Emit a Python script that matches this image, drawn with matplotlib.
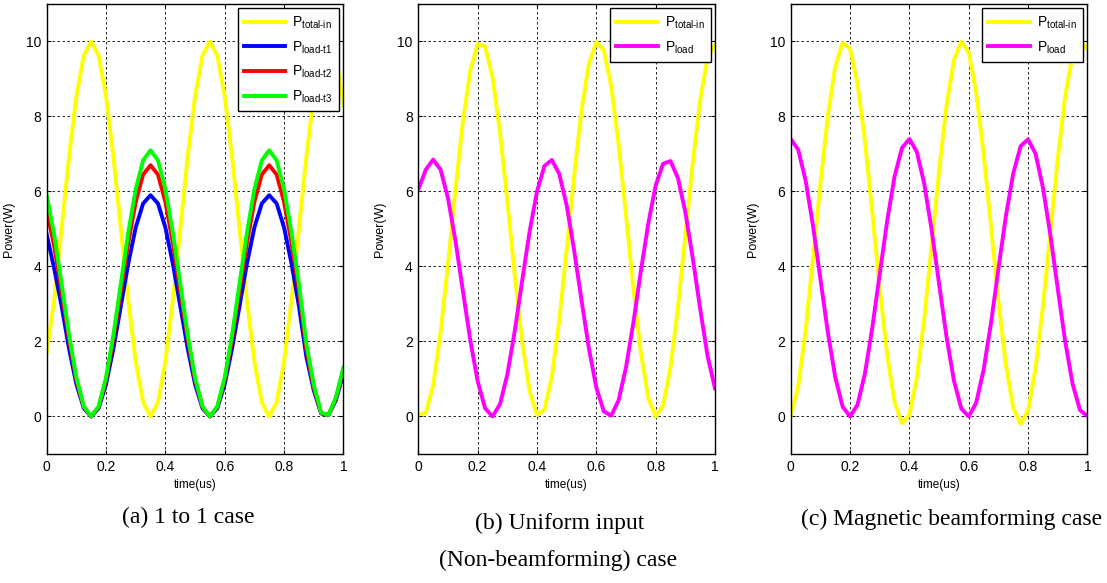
import matplotlib
matplotlib.use('Agg')
import matplotlib.pyplot as plt

plt.rcParams['font.family'] = ['Liberation Sans', 'DejaVu Sans']
plt.rcParams['mathtext.fontset'] = 'custom'
plt.rcParams['mathtext.rm'] = 'Liberation Sans'
plt.rcParams['mathtext.it'] = 'Liberation Sans'

# time axis (us), sampled every 0.025
t = [i * 0.025 for i in range(41)]

# (a) 1 to 1 case
a_total = [1.7, 3.09, 5.0, 6.91, 8.54, 9.62, 10.0, 9.62, 8.54, 6.91, 5.0, 3.09, 1.46, 0.38,
           0.0, 0.38, 1.46, 3.09, 5.0, 6.91, 8.54, 9.62, 10.0, 9.62, 8.54, 6.91, 5.0, 3.09,
           1.46, 0.38, 0.0, 0.38, 1.46, 3.09, 5.0, 6.91, 8.54, 9.62, 10.0, 9.62, 8.3]
a_load1 = [4.85, 3.95, 2.95, 1.82, 0.86, 0.22, 0.0, 0.22, 0.86, 1.82, 2.95, 4.08, 5.04, 5.68,
           5.9, 5.68, 5.04, 4.08, 2.95, 1.82, 0.86, 0.22, 0.0, 0.22, 0.86, 1.82, 2.95, 4.08,
           5.04, 5.68, 5.9, 5.68, 5.04, 4.08, 2.95, 1.6, 0.7, 0.08, 0.04, 0.44, 1.15]
a_load2 = [5.5, 4.55, 3.35, 2.07, 0.98, 0.25, 0.0, 0.25, 0.98, 2.07, 3.35, 4.63, 5.72, 6.45,
           6.7, 6.45, 5.72, 4.63, 3.35, 2.07, 0.98, 0.25, 0.0, 0.25, 0.98, 2.07, 3.35, 4.63,
           5.72, 6.45, 6.7, 6.45, 5.72, 4.63, 3.35, 1.8, 0.78, 0.09, 0.04, 0.49, 1.25]
a_load3 = [5.9, 4.85, 3.55, 2.19, 1.04, 0.27, 0.0, 0.27, 1.04, 2.19, 3.55, 4.91, 6.06, 6.83,
           7.1, 6.83, 6.06, 4.91, 3.55, 2.19, 1.04, 0.27, 0.0, 0.27, 1.04, 2.19, 3.55, 4.91,
           6.06, 6.83, 7.1, 6.83, 6.06, 4.91, 3.55, 1.95, 0.85, 0.1, 0.04, 0.52, 1.3]

# (b) uniform input (non-beamforming)
b_total = [0.05, 0.09, 0.84, 2.24, 4.07, 6.04, 7.85, 9.22, 9.93, 9.87, 9.05, 7.6, 5.74, 3.77,
           1.99, 0.68, 0.04, 0.18, 1.06, 2.57, 4.45, 6.41, 8.16, 9.41, 9.98, 9.77, 8.81, 7.27,
           5.37, 3.41, 1.7, 0.5, 0.0, 0.29, 1.31, 2.9, 4.82, 6.76, 8.44, 9.57, 9.9]
b_load = [6.05, 6.58, 6.85, 6.58, 5.82, 4.69, 3.36, 2.04, 0.94, 0.22, 0.0, 0.32, 1.12, 2.28,
          3.62, 4.93, 6.0, 6.68, 6.84, 6.47, 5.63, 4.44, 3.1, 1.81, 0.77, 0.14, 0.02, 0.43,
          1.31, 2.51, 3.87, 5.14, 6.16, 6.74, 6.81, 6.36, 5.45, 4.22, 2.87, 1.61, 0.75]

# (c) magnetic beamforming
c_total = [0.0, 0.79, 2.29, 4.19, 6.2, 8.01, 9.33, 9.96, 9.81, 8.89, 7.35, 5.43, 3.42, 1.65,
           0.38, -0.18, 0.04, 1.03, 2.61, 4.55, 6.54, 8.29, 9.5, 10.0, 9.7, 8.65, 7.02, 5.07,
           3.08, 1.39, 0.23, -0.2, 0.16, 1.26, 2.93, 4.9, 6.87, 8.53, 9.64, 10.0, 9.8]
c_load = [7.4, 7.12, 6.3, 5.09, 3.67, 2.25, 1.05, 0.26, 0.0, 0.31, 1.14, 2.37, 3.8, 5.21,
          6.4, 7.16, 7.4, 7.06, 6.21, 4.97, 3.54, 2.13, 0.96, 0.21, 0.0, 0.36, 1.24, 2.49,
          3.93, 5.33, 6.48, 7.21, 7.39, 7.01, 6.11, 4.85, 3.41, 2.01, 0.87, 0.17, 0.01]

lbl_total = 'P$_{\\rm total\u2010in}$'
panels = [
    ([a_total, a_load1, a_load2, a_load3],
     ['#ffff00', '#0000ff', '#ff0000', '#00ff00'],
     [lbl_total, 'P$_{\\rm load\u2010t1}$', 'P$_{\\rm load\u2010t2}$', 'P$_{\\rm load\u2010t3}$']),
    ([b_total, b_load], ['#ffff00', '#ff00ff'], [lbl_total, 'P$_{\\rm load}$']),
    ([c_total, c_load], ['#ffff00', '#ff00ff'], [lbl_total, 'P$_{\\rm load}$']),
]
lefts = [0.0422, 0.3779, 0.7143]

fig = plt.figure(figsize=(11.07, 5.83), dpi=100)
for left, (series, colors, labels) in zip(lefts, panels):
    ax = fig.add_axes([left, 0.2213, 0.268, 0.7719])
    for y, c, lab in zip(series, colors, labels):
        ax.plot(t, y, color=c, lw=2.8, label=lab, solid_joinstyle='round')
    ax.set_xlim(0, 1)
    ax.set_ylim(-1, 11)
    ax.set_xticks([0, 0.2, 0.4, 0.6, 0.8, 1])
    ax.set_xticklabels(['0', '0.2', '0.4', '0.6', '0.8', '1'])
    ax.set_yticks([0, 2, 4, 6, 8, 10])
    ax.tick_params(direction='in', top=True, right=True, labelsize=10, length=3, pad=4)
    ax.grid(True, color='k', ls=(0, (3, 3)), lw=0.6)
    for s in ax.spines.values():
        s.set_linewidth(1.0)
    ax.set_xlabel('time(us)', fontsize=8.5, labelpad=4)
    ax.set_ylabel('Power(W)', fontsize=9, labelpad=8)
    leg = ax.legend(loc='upper right', fontsize=10, fancybox=False, framealpha=1,
                    edgecolor='k', handlelength=3.0, labelspacing=0.6,
                    borderaxespad=0.3, handletextpad=0.5, borderpad=0.45)
    leg.get_frame().set_linewidth(1.0)

cap = dict(family=['Liberation Serif', 'DejaVu Serif'], fontsize=17, ha='center', va='center')
fig.text(188 / 1107, 1 - 517 / 583, '(a) 1 to 1 case', **cap)
fig.text(560 / 1107, 1 - 523 / 583, '(b) Uniform input', **cap)
fig.text(558 / 1107, 1 - 560 / 583, '(Non-beamforming) case', **cap)
fig.text(952 / 1107, 1 - 519 / 583, '(c) Magnetic beamforming case', **cap)

fig.savefig('out.png', dpi=100)
